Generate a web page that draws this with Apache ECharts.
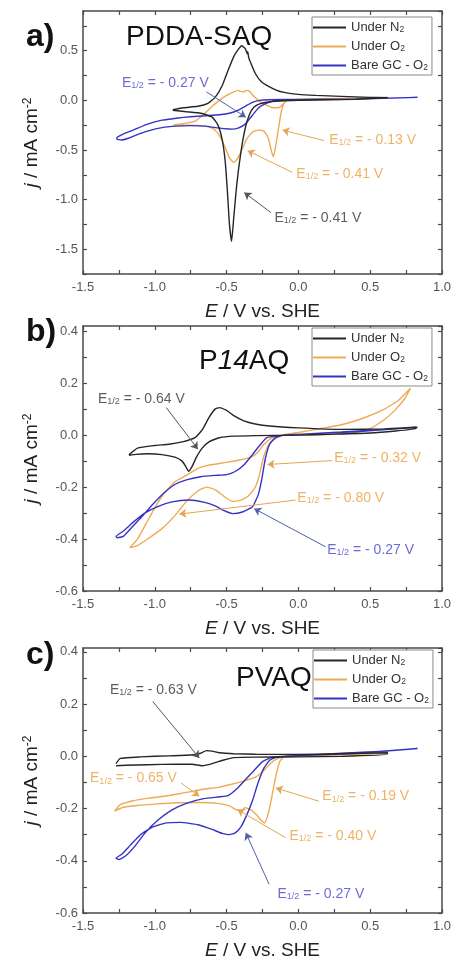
<!DOCTYPE html>
<html><head><meta charset="utf-8">
<script src="https://cdn.jsdelivr.net/npm/echarts@6/dist/echarts.min.js"></script>
<style>html,body{margin:0;padding:0;background:#fff;}#c{width:454px;height:964px;}</style>
</head><body><div id="c"></div>
<script>
// ---------- DATA (E / V vs SHE, j / mA cm-2), cycles traced in sweep order ----------
const aN2 = [[-0.875,-0.095],[-0.80,-0.075],[-0.70,-0.06],[-0.63,-0.03],[-0.58,0.03],[-0.53,0.15],[-0.49,0.30],[-0.45,0.44],[-0.42,0.51],[-0.395,0.55],[-0.37,0.52],[-0.356,0.47],[-0.352,0.49],[-0.346,0.43],[-0.33,0.37],[-0.30,0.27],[-0.26,0.19],[-0.22,0.15],[-0.15,0.10],[-0.10,0.08],[0.0,0.06],[0.12,0.05],[0.3,0.04],[0.5,0.03],[0.62,0.027],
  [0.62,0.02],[0.4,0.01],[0.2,0.005],[0.0,0.0],[-0.10,-0.005],[-0.2,-0.015],[-0.27,-0.035],[-0.31,-0.07],[-0.34,-0.14],[-0.37,-0.28],[-0.40,-0.52],[-0.43,-0.86],[-0.45,-1.18],[-0.465,-1.42],[-0.48,-1.25],[-0.495,-0.90],[-0.51,-0.61],[-0.53,-0.40],[-0.56,-0.25],[-0.60,-0.17],[-0.68,-0.13],[-0.78,-0.115],[-0.875,-0.1]];
const aO2 = [[-0.87,-0.245],[-0.80,-0.235],[-0.72,-0.21],[-0.65,-0.13],[-0.60,-0.06],[-0.55,0.0],[-0.50,0.05],[-0.45,0.085],[-0.42,0.10],[-0.40,0.09],[-0.38,0.085],[-0.36,0.10],[-0.34,0.09],[-0.31,0.04],[-0.27,-0.01],[-0.22,-0.05],[-0.17,-0.075],[-0.13,-0.07],[-0.10,-0.03],[-0.08,0.0],[0.0,0.01],[0.3,0.02],[0.62,0.03],
  [0.62,0.025],[0.3,0.015],[0.0,0.005],[-0.08,0.0],[-0.10,-0.03],[-0.12,-0.12],[-0.14,-0.30],[-0.16,-0.48],[-0.175,-0.57],[-0.19,-0.50],[-0.21,-0.38],[-0.24,-0.31],[-0.28,-0.30],[-0.32,-0.32],[-0.36,-0.39],[-0.40,-0.52],[-0.43,-0.60],[-0.45,-0.625],[-0.48,-0.58],[-0.52,-0.44],[-0.56,-0.33],[-0.60,-0.28],[-0.68,-0.255],[-0.78,-0.25],[-0.87,-0.25]];
const aGC = [[0.83,0.03],[0.6,0.02],[0.3,0.01],[0.0,0.005],[-0.10,0.0],[-0.18,-0.01],[-0.24,-0.04],[-0.28,-0.08],[-0.32,-0.15],[-0.37,-0.24],[-0.42,-0.28],[-0.46,-0.29],[-0.52,-0.285],[-0.58,-0.275],[-0.65,-0.26],[-0.75,-0.255],[-0.85,-0.26],[-0.95,-0.275],[-1.05,-0.31],[-1.13,-0.35],[-1.19,-0.385],[-1.23,-0.40],[-1.265,-0.39],
  [-1.26,-0.37],[-1.22,-0.34],[-1.15,-0.30],[-1.05,-0.24],[-0.95,-0.20],[-0.85,-0.18],[-0.75,-0.165],[-0.65,-0.155],[-0.55,-0.145],[-0.48,-0.13],[-0.42,-0.10],[-0.37,-0.06],[-0.32,-0.02],[-0.27,0.0],[-0.2,0.005],[0.0,0.01],[0.4,0.015],[0.83,0.03]];

const bN2 = [[-1.18,-0.076],[-1.12,-0.05],[-1.0,-0.04],[-0.90,-0.035],[-0.80,-0.025],[-0.72,-0.01],[-0.67,0.02],[-0.62,0.07],[-0.58,0.10],[-0.55,0.106],[-0.50,0.095],[-0.45,0.075],[-0.38,0.055],[-0.30,0.043],[-0.2,0.035],[0.0,0.028],[0.3,0.022],[0.6,0.024],[0.82,0.03],
  [0.82,0.025],[0.5,0.008],[0.2,0.003],[0.0,0.0],[-0.3,-0.002],[-0.45,-0.004],[-0.55,-0.01],[-0.62,-0.025],[-0.67,-0.05],[-0.71,-0.085],[-0.74,-0.12],[-0.765,-0.139],[-0.785,-0.12],[-0.81,-0.10],[-0.86,-0.085],[-0.95,-0.075],[-1.05,-0.072],[-1.13,-0.074],[-1.18,-0.078]];
const bO2 = [[-1.175,-0.433],[-1.12,-0.40],[-1.06,-0.34],[-1.0,-0.28],[-0.93,-0.22],[-0.86,-0.18],[-0.78,-0.155],[-0.70,-0.128],[-0.62,-0.115],[-0.50,-0.105],[-0.40,-0.095],[-0.33,-0.085],[-0.28,-0.065],[-0.24,-0.035],[-0.18,-0.01],[-0.12,0.0],[0.0,0.01],[0.15,0.025],[0.3,0.04],[0.45,0.065],[0.6,0.10],[0.7,0.135],[0.78,0.18],
  [0.74,0.14],[0.68,0.10],[0.6,0.06],[0.5,0.025],[0.4,0.01],[0.2,0.002],[0.0,0.0],[-0.12,-0.002],[-0.2,-0.03],[-0.24,-0.08],[-0.27,-0.15],[-0.30,-0.2],[-0.35,-0.235],[-0.40,-0.25],[-0.46,-0.255],[-0.52,-0.235],[-0.58,-0.21],[-0.64,-0.2],[-0.70,-0.215],[-0.78,-0.255],[-0.86,-0.31],[-0.95,-0.36],[-1.05,-0.40],[-1.12,-0.425],[-1.175,-0.433]];
const bGC = [[0.83,0.03],[0.6,0.022],[0.3,0.012],[0.0,0.003],[-0.10,0.0],[-0.16,-0.01],[-0.2,-0.035],[-0.23,-0.09],[-0.255,-0.17],[-0.28,-0.23],[-0.32,-0.276],[-0.39,-0.296],[-0.46,-0.302],[-0.52,-0.29],[-0.58,-0.272],[-0.66,-0.258],[-0.76,-0.25],[-0.88,-0.257],[-0.98,-0.275],[-1.07,-0.30],[-1.15,-0.335],[-1.22,-0.37],[-1.27,-0.39],
  [-1.26,-0.395],[-1.22,-0.39],[-1.16,-0.355],[-1.10,-0.32],[-1.02,-0.27],[-0.94,-0.225],[-0.86,-0.19],[-0.78,-0.172],[-0.68,-0.16],[-0.58,-0.155],[-0.50,-0.152],[-0.44,-0.14],[-0.38,-0.115],[-0.32,-0.075],[-0.27,-0.04],[-0.22,-0.01],[-0.15,-0.003],[0.0,0.003],[0.4,0.013],[0.83,0.03]];

const cN2 = [[-1.27,-0.028],[-1.24,-0.008],[-1.1,-0.002],[-0.9,0.002],[-0.75,0.005],[-0.68,0.012],[-0.64,0.022],[-0.6,0.02],[-0.55,0.014],[-0.45,0.01],[-0.3,0.008],[0.0,0.007],[0.3,0.01],[0.62,0.014],
  [0.62,0.008],[0.3,0.0],[0.0,-0.002],[-0.3,-0.003],[-0.45,-0.005],[-0.52,-0.014],[-0.6,-0.028],[-0.67,-0.036],[-0.74,-0.03],[-0.85,-0.03],[-1.05,-0.032],[-1.2,-0.034],[-1.27,-0.036]];
const cO2 = [[-1.28,-0.21],[-1.24,-0.185],[-1.15,-0.17],[-1.04,-0.16],[-0.9,-0.15],[-0.8,-0.14],[-0.65,-0.125],[-0.55,-0.118],[-0.45,-0.105],[-0.38,-0.095],[-0.3,-0.08],[-0.25,-0.06],[-0.2,-0.03],[-0.15,-0.01],[-0.1,0.0],[0.0,0.005],[0.3,0.01],[0.62,0.02],
  [0.62,0.015],[0.3,0.005],[0.0,0.0],[-0.1,-0.002],[-0.13,-0.02],[-0.15,-0.06],[-0.17,-0.11],[-0.19,-0.17],[-0.21,-0.22],[-0.235,-0.255],[-0.26,-0.245],[-0.29,-0.225],[-0.33,-0.205],[-0.37,-0.197],[-0.40,-0.207],[-0.43,-0.205],[-0.48,-0.19],[-0.56,-0.18],[-0.7,-0.177],[-0.85,-0.178],[-1.0,-0.183],[-1.12,-0.188],[-1.22,-0.195],[-1.28,-0.21]];
const cGC = [[0.83,0.03],[0.6,0.02],[0.3,0.012],[0.0,0.003],[-0.10,0.0],[-0.16,-0.005],[-0.2,-0.015],[-0.24,-0.045],[-0.28,-0.1],[-0.32,-0.17],[-0.36,-0.225],[-0.40,-0.27],[-0.44,-0.293],[-0.48,-0.30],[-0.53,-0.295],[-0.6,-0.28],[-0.7,-0.262],[-0.82,-0.253],[-0.92,-0.255],[-1.02,-0.272],[-1.1,-0.3],[-1.17,-0.34],[-1.23,-0.375],[-1.27,-0.39],
  [-1.25,-0.395],[-1.2,-0.38],[-1.14,-0.345],[-1.07,-0.295],[-0.98,-0.245],[-0.88,-0.205],[-0.78,-0.18],[-0.66,-0.162],[-0.55,-0.155],[-0.49,-0.15],[-0.43,-0.125],[-0.37,-0.09],[-0.31,-0.055],[-0.25,-0.02],[-0.18,-0.003],[0.0,0.003],[0.4,0.012],[0.83,0.03]];

const panelTitles = ['PDDA-SAQ', 'P14AQ', 'PVAQ'];
const panelTags = ['a)', 'b)', 'c)'];
const seriesNames = ['N2', 'O2', 'GC'];
const legendLabels = {N2: '{t|Under N}{s|2}', O2: '{t|Under O}{s|2}', GC: '{t|Bare GC - O}{s|2}'};
const xTicks = {min: -1.5, max: 1.0, interval: 0.25, labelStep: 0.5};
const yTicksA = {min: -1.75, max: 0.9, interval: 0.25, labelStep: 0.5};
const yTicksB = {min: -0.6, max: 0.42, interval: 0.1, labelStep: 0.2};
const yTicksC = {min: -0.6, max: 0.415, interval: 0.1, labelStep: 0.2};

// E1/2 annotations: value text, colour key, text anchor, arrow start, arrow end (data coords)
const annA = [
  {v: '- 0.27 V', k: 'GC', at: [-1.229, 0.172], p0: [-0.64, 0.085], p1: [-0.366, -0.17]},
  {v: '- 0.13 V', k: 'O2', at: [0.215, -0.404], p0: [0.178, -0.405], p1: [-0.111, -0.30]},
  {v: '- 0.41 V', k: 'O2', at: [-0.014, -0.747], p0: [-0.042, -0.726], p1: [-0.354, -0.507]},
  {v: '- 0.41 V', k: 'N2', at: [-0.167, -1.19], p0: [-0.192, -1.13], p1: [-0.377, -0.93]}
];
const annB = [
  {v: '- 0.64 V', k: 'N2', at: [-1.396, 0.139], p0: [-0.92, 0.106], p1: [-0.70, -0.054]},
  {v: '- 0.32 V', k: 'O2', at: [0.25, -0.087], p0: [0.236, -0.098], p1: [-0.215, -0.113]},
  {v: '- 0.80 V', k: 'O2', at: [-0.007, -0.244], p0: [-0.019, -0.25], p1: [-0.829, -0.304]},
  {v: '- 0.27 V', k: 'GC', at: [0.201, -0.442], p0: [0.19, -0.43], p1: [-0.308, -0.283]}
];
const annC = [
  {v: '- 0.63 V', k: 'N2', at: [-1.3125, 0.255], p0: [-1.014, 0.21], p1: [-0.69, -0.006]},
  {v: '- 0.65 V', k: 'O2', at: [-1.451, -0.085], p0: [-0.817, -0.102], p1: [-0.69, -0.153]},
  {v: '- 0.19 V', k: 'O2', at: [0.167, -0.154], p0: [0.143, -0.172], p1: [-0.157, -0.121]},
  {v: '- 0.40 V', k: 'O2', at: [-0.0625, -0.307], p0: [-0.088, -0.312], p1: [-0.424, -0.204]},
  {v: '- 0.27 V', k: 'GC', at: [-0.146, -0.529], p0: [-0.204, -0.49], p1: [-0.366, -0.293]}
];

// ---------- STYLE ----------
const FONT = '"Liberation Sans", Arial, sans-serif';
const lineColors = {N2: '#262626', O2: '#eeaa55', GC: '#3434c4'};
const textColors = {N2: '#333333', O2: '#e9a040', GC: '#4646cc'};
const arrowColors = {N2: '#555555', O2: '#e3a555', GC: '#5060a8'};
const grids = [
  {left: 83, width: 360, top: 11, height: 263},
  {left: 83, width: 360, top: 326, height: 265},
  {left: 83, width: 360, top: 648, height: 265}
];

function stepFmt(step) {
  return function (v) {
    if (Math.abs(v) < 1e-9) return '0.0';
    const r = v / step;
    return Math.abs(r - Math.round(r)) < 1e-6 ? v.toFixed(1) : '';
  };
}
const axisLine = {show: true, onZero: false, lineStyle: {color: '#4a4a4a', width: 1.5}};
const axisTick = {show: true, inside: true, length: 4, lineStyle: {color: '#4a4a4a', width: 1.2}};
const labelStyle = {color: '#555', fontSize: 13, fontFamily: FONT};

const xAxes = [], yAxes = [];
const yTicksAll = [yTicksA, yTicksB, yTicksC];
grids.forEach((g, i) => {
  xAxes.push({
    type: 'value', gridIndex: i, position: 'bottom', min: xTicks.min, max: xTicks.max, interval: xTicks.interval,
    axisLine, axisTick, splitLine: {show: false},
    axisLabel: Object.assign({margin: 7, formatter: stepFmt(xTicks.labelStep), showMinLabel: true, showMaxLabel: true}, labelStyle),
    name: '{i|E}{n| / V vs. SHE}', nameLocation: 'middle', nameGap: 28,
    nameTextStyle: {fontFamily: FONT, color: '#222', rich: {i: {fontSize: 19, fontStyle: 'italic', fontFamily: FONT, color: '#222'}, n: {fontSize: 19, fontFamily: FONT, color: '#222'}}}
  });
  xAxes.push({
    type: 'value', gridIndex: i, position: 'top', min: xTicks.min, max: xTicks.max, interval: xTicks.interval,
    axisLine, axisTick, axisLabel: {show: false}, splitLine: {show: false}
  });
  const yt = yTicksAll[i];
  yAxes.push({
    type: 'value', gridIndex: i, position: 'left', min: yt.min, max: yt.max, interval: yt.interval,
    axisLine, axisTick, splitLine: {show: false},
    axisLabel: Object.assign({margin: 5, formatter: stepFmt(yt.labelStep), showMinLabel: true, showMaxLabel: false}, labelStyle),
    name: '{i|j}{n| / mA cm}{s|-2}', nameLocation: 'middle', nameGap: 42,
    nameTextStyle: {fontFamily: FONT, color: '#222', rich: {
      i: {fontSize: 19, fontStyle: 'italic', fontFamily: FONT, color: '#222'},
      n: {fontSize: 19, fontFamily: FONT, color: '#222'},
      s: {fontSize: 12, fontFamily: FONT, color: '#222', verticalAlign: 'top'}}}
  });
  yAxes.push({
    type: 'value', gridIndex: i, position: 'right', min: yt.min, max: yt.max, interval: yt.interval,
    axisLine, axisTick, axisLabel: {show: false}, splitLine: {show: false}
  });
});

const panelData = [[aN2, aO2, aGC], [bN2, bO2, bGC], [cN2, cO2, cGC]];
const panelAnn = [annA, annB, annC];
const series = [];
panelData.forEach((arrs, i) => {
  arrs.forEach((d, j) => {
    const k = seriesNames[j];
    series.push({
      name: k, type: 'line', xAxisIndex: 2 * i, yAxisIndex: 2 * i, data: d,
      showSymbol: false, symbol: 'none', smooth: 0.15, clip: true,
      lineStyle: {color: lineColors[k], width: 1.4}, itemStyle: {color: lineColors[k]},
      z: j === 2 ? 3 : (j === 0 ? 4 : 2)
    });
  });
  const ann = panelAnn[i];
  series.push({
    type: 'scatter', xAxisIndex: 2 * i, yAxisIndex: 2 * i, symbolSize: 0, silent: true, z: 6,
    data: ann.map(a => ({value: a.at, label: {color: textColors[a.k]}, v: a.v})),
    label: {
      show: true, position: 'right', distance: 0, fontFamily: FONT, fontSize: 14,
      formatter: p => '{e|E}{s|1/2}{e| = ' + p.data.v + '}',
      rich: {e: {fontSize: 14, fontFamily: FONT}, s: {fontSize: 9, fontFamily: FONT, verticalAlign: 'bottom'}}
    },
    markLine: {
      silent: true, symbol: ['none', 'arrow'], symbolSize: 7, animation: false,
      label: {show: false},
      data: ann.map(a => [{coord: a.p0, lineStyle: {color: arrowColors[a.k], width: 1, type: 'solid'}}, {coord: a.p1}])
    }
  });
});

const legendTops = [17, 328, 650];
const legends = legendTops.map((t, i) => ({
  orient: 'vertical', left: i === 2 ? 313 : 312, top: t, data: seriesNames,
  icon: 'rect', itemWidth: 33, itemHeight: 2, itemGap: 6, itemTextGap: 4,
  padding: [4, 4, 3, 1], borderColor: '#8a8a8a', borderWidth: 1, backgroundColor: '#fff', z: 10,
  selectedMode: false,
  formatter: n => legendLabels[n],
  textStyle: {fontFamily: FONT, color: '#333', rich: {
    t: {fontSize: 13, fontFamily: FONT, color: '#333'},
    s: {fontSize: 8.5, fontFamily: FONT, color: '#333', verticalAlign: 'bottom'}}}
}));

const tagStyle = {fontSize: 32, fontWeight: 'bold', fontFamily: FONT, color: '#111'};
const nameStyle = {fontSize: 28, fontWeight: 'normal', fontFamily: FONT, color: '#111'};
const titles = [
  {text: panelTags[0], left: 21, top: 16, textStyle: tagStyle},
  {text: panelTags[1], left: 21, top: 311, textStyle: tagStyle},
  {text: panelTags[2], left: 21, top: 634, textStyle: tagStyle},
  {text: panelTitles[0], left: 121, top: 18, textStyle: nameStyle},
  {text: '{n|P}{i|14}{n|AQ}', left: 194, top: 342, textStyle: Object.assign({}, nameStyle, {
    rich: {n: {fontSize: 28, fontWeight: 'normal', fontFamily: FONT, color: '#111'},
           i: {fontSize: 28, fontWeight: 'normal', fontStyle: 'italic', fontFamily: FONT, color: '#111'}}})},
  {text: panelTitles[2], left: 231, top: 659, textStyle: nameStyle}
];

const chart = echarts.init(document.getElementById('c'), null, {renderer: 'canvas'});
chart.setOption({
  animation: false, backgroundColor: '#fff',
  title: titles, legend: legends, grid: grids, xAxis: xAxes, yAxis: yAxes, series
});
</script></body></html>
